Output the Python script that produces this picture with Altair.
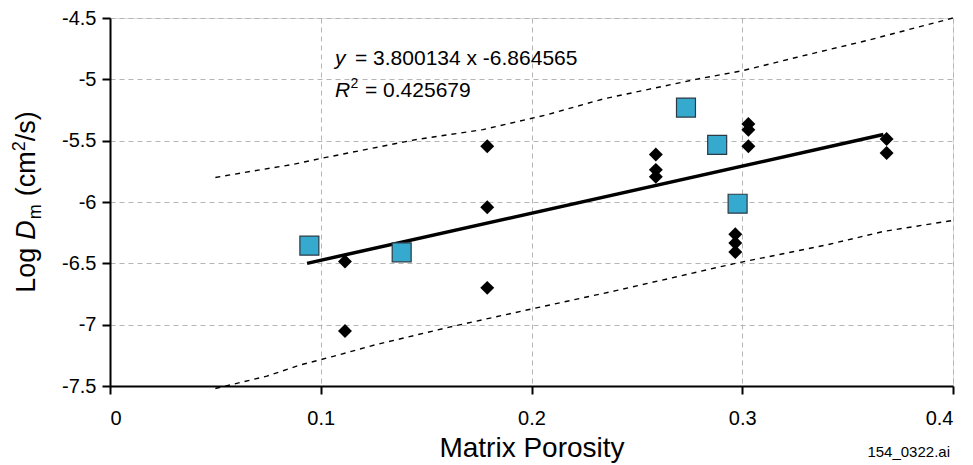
import altair as alt
import pandas as pd

# ---- data ----
sq_x = [0.0946, 0.1384, 0.2733, 0.2881, 0.2978]
sq_y = [-6.356, -6.41, -5.23, -5.535, -6.014]

dm_x = [0.1115, 0.1115, 0.179, 0.179, 0.179, 0.259, 0.259, 0.259,
        0.2967, 0.2967, 0.2967, 0.3029, 0.3029, 0.3029, 0.3685, 0.3685]
dm_y = [-6.485, -7.052, -5.546, -6.043, -6.70, -5.613, -5.738, -5.795,
        -6.263, -6.335, -6.408, -5.364, -5.412, -5.546, -5.487, -5.60]

fit_x = [0.0935, 0.367]
fit_y = [-6.50, -5.45]

up_x = [0.05, 0.068, 0.087, 0.10, 0.1455, 0.177, 0.207, 0.234, 0.256, 0.278, 0.30, 0.326, 0.36, 0.40]
up_y = [-5.80, -5.747, -5.693, -5.645, -5.49, -5.41, -5.29, -5.16, -5.08, -5.00, -4.93, -4.82, -4.68, -4.50]

lo_x = [0.05, 0.0744, 0.09, 0.106, 0.1257, 0.161, 0.204, 0.24, 0.2957, 0.34, 0.367, 0.40]
lo_y = [-7.52, -7.42, -7.33, -7.258, -7.165, -7.02, -6.857, -6.723, -6.504, -6.35, -6.24, -6.15]

x_ticks = [0, 0.1, 0.2, 0.3, 0.4]
y_ticks = [-4.5, -5, -5.5, -6, -6.5, -7, -7.5]

eq_text = "= 3.800134 x -6.864565"
r2_text = "= 0.425679"

FONT = "Liberation Sans"
W, H = 843, 368
TOP = 10
ORIGIN_Y = 8 + TOP  # page y of plot top

xs = alt.Scale(domain=[0, 0.4], nice=False, zero=False)
ys = alt.Scale(domain=[-7.5, -4.5], nice=False, zero=False)

x_axis = alt.Axis(values=x_ticks, labelExpr="'' + datum.value", title="Matrix Porosity",
                  grid=True, gridDash=[5, 4], gridColor="#b5b5b5", gridWidth=1,
                  domainColor="black", domainWidth=2, tickColor="black", tickWidth=2,
                  tickSize=8, labelFontSize=20, labelPadding=14, labelColor="black",
                  titleFontSize=28, titleFontWeight="normal", titlePadding=6, titleColor="black",
                  labelFont=FONT, titleFont=FONT)
y_axis = alt.Axis(values=y_ticks, labelExpr="'' + datum.value", title=None,
                  grid=True, gridDash=[5, 4], gridColor="#b5b5b5", gridWidth=1,
                  domainColor="black", domainWidth=2, tickColor="black", tickWidth=2,
                  tickSize=8, labelFontSize=20, labelPadding=6, labelColor="black",
                  labelFont=FONT)

sq_df = pd.DataFrame({"x": sq_x, "y": sq_y})
dm_df = pd.DataFrame({"x": dm_x, "y": dm_y})
fit_df = pd.DataFrame({"x": fit_x, "y": fit_y})
up_df = pd.DataFrame({"x": up_x, "y": up_y})
lo_df = pd.DataFrame({"x": lo_x, "y": lo_y})

base_axes = alt.Chart(dm_df).mark_point(opacity=0).encode(
    x=alt.X("x:Q", scale=xs, axis=x_axis),
    y=alt.Y("y:Q", scale=ys, axis=y_axis),
)

upper = alt.Chart(up_df).mark_line(color="black", strokeWidth=1.4, strokeDash=[5, 5]).encode(
    x=alt.X("x:Q", scale=xs), y=alt.Y("y:Q", scale=ys))
lower = alt.Chart(lo_df).mark_line(color="black", strokeWidth=1.4, strokeDash=[5, 5]).encode(
    x=alt.X("x:Q", scale=xs), y=alt.Y("y:Q", scale=ys))
fit = alt.Chart(fit_df).mark_line(color="black", strokeWidth=3.5).encode(
    x=alt.X("x:Q", scale=xs), y=alt.Y("y:Q", scale=ys))

diamonds = alt.Chart(dm_df).mark_point(shape="diamond", filled=True, color="black",
                                       size=195, opacity=1).encode(
    x=alt.X("x:Q", scale=xs), y=alt.Y("y:Q", scale=ys))
squares = alt.Chart(sq_df).mark_point(shape="square", filled=True, fill="#36a9ce",
                                      stroke="#2b3a44", strokeWidth=1.2, size=360,
                                      opacity=1).encode(
    x=alt.X("x:Q", scale=xs), y=alt.Y("y:Q", scale=ys))

one = pd.DataFrame({"a": [0]})

def txt(text, x, y, size, style="normal", angle=0, align="left", baseline="alphabetic"):
    kw = dict(text=text, fontSize=size, font=FONT, fontStyle=style, align=align,
              baseline=baseline, color="black")
    if angle:
        kw["angle"] = angle
    return alt.Chart(one).mark_text(**kw).encode(x=alt.value(x), y=alt.value(y))

# equation annotation (page baselines 65 and 97)
eq_x0 = 225
ann = [
    txt("y", eq_x0, 65 - ORIGIN_Y, 21, style="italic"),
    txt(eq_text, eq_x0 + 20, 65 - ORIGIN_Y, 21),
    txt("R", eq_x0, 97 - ORIGIN_Y, 21, style="italic"),
    txt("2", eq_x0 + 15.5, 88 - ORIGIN_Y, 14),
    txt(r2_text, eq_x0 + 30, 97 - ORIGIN_Y, 21),
]

# rotated y title: Log D_m (cm^2/s)
fs, fss = 27, 18
yt_x = -75
segs = [
    ("Log", fs, "normal", 0, 1.668 * fs + 0.3 * fs),
    ("D", fs, "italic", 0, 0.722 * fs + 1),
    ("m", fss, "normal", 6, 0.833 * fss + 0.3 * fs),
    ("(cm", fs, "normal", 0, 1.666 * fs),
    ("2", fss, "normal", -10, 0.556 * fss),
    ("/s)", fs, "normal", 0, 1.111 * fs),
]
total = sum(s[4] for s in segs)
ypos = (202 - ORIGIN_Y) + total / 2
for t, s, st, dx, adv in segs:
    ann.append(txt(t, yt_x + dx, ypos, s, style=st, angle=270))
    ypos -= adv

ann.append(txt("154_0322.ai", 840, 457 - ORIGIN_Y, 15, align="right"))

chart = alt.layer(base_axes, upper, lower, fit, diamonds, squares, *ann).properties(
    width=W, height=H,
    autosize=alt.AutoSizeParams(type="none"),
    padding={"left": 102, "top": TOP, "right": 12, "bottom": 457 - TOP - H},
).configure_view(stroke="black", strokeWidth=2).configure(background="white")

chart.save("out.html", embed_options={"renderer": "svg", "actions": False})
